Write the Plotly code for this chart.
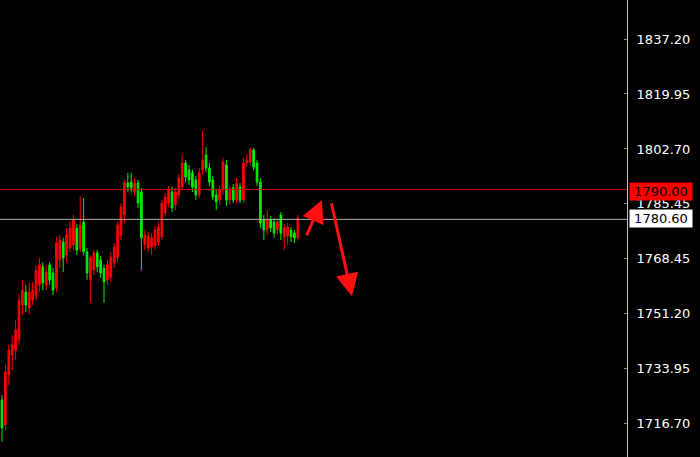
import plotly.graph_objects as go

# OHLC values (price units)
opens = [1723.9, 1716.1, 1731.8, 1738.0, 1739.6, 1742.8, 1753.7, 1757.8, 1752.8, 1755.3,
         1756.5, 1760.0, 1765.7, 1760.0, 1766.3, 1763.8, 1759.1, 1767.9, 1773.5, 1769.4,
         1771.6, 1772.6, 1777.9, 1771.6, 1779.8, 1770.4, 1761.6, 1764.7, 1770.1, 1767.9,
         1765.3, 1761.6, 1762.5, 1766.9, 1768.5, 1775.7, 1782.0, 1792.0, 1792.3, 1789.2,
         1792.0, 1789.2, 1772.6, 1771.6, 1771.9, 1772.3, 1773.5, 1775.1, 1782.6, 1785.7,
         1789.2, 1785.1, 1788.3, 1790.8, 1798.3, 1796.1, 1795.2, 1793.0, 1788.3, 1796.1,
         1800.8, 1796.7, 1793.0, 1788.3, 1786.7, 1789.8, 1797.7, 1786.7, 1790.5, 1786.7,
         1790.8, 1786.7, 1798.3, 1798.6, 1802.4, 1798.3, 1792.3, 1780.4, 1777.3, 1780.4,
         1779.8, 1777.3, 1782.0, 1775.1, 1775.4, 1777.3, 1776.3, 1774.8]
highs = [1725.5, 1734.9, 1741.2, 1744.3, 1749.0, 1756.9, 1761.6, 1760.0, 1761.0, 1761.0,
         1766.3, 1768.5, 1767.2, 1766.3, 1767.2, 1765.3, 1774.8, 1775.7, 1774.8, 1777.9,
         1779.8, 1782.0, 1779.2, 1787.9, 1787.3, 1771.6, 1769.4, 1771.0, 1771.0, 1769.1,
         1766.3, 1767.9, 1770.4, 1773.2, 1779.8, 1785.7, 1793.0, 1795.2, 1795.2, 1793.6,
         1793.0, 1790.5, 1777.3, 1776.6, 1776.3, 1778.5, 1779.8, 1786.7, 1788.9, 1791.1,
         1790.8, 1790.5, 1794.8, 1800.8, 1799.2, 1797.7, 1796.1, 1794.2, 1796.7, 1808.3,
         1803.3, 1798.3, 1794.2, 1789.8, 1791.1, 1799.9, 1799.2, 1791.1, 1791.7, 1793.6,
         1792.0, 1799.9, 1801.1, 1803.0, 1803.0, 1799.2, 1793.6, 1782.0, 1783.5, 1781.7,
         1781.0, 1781.0, 1782.9, 1779.2, 1779.5, 1778.2, 1777.3, 1782.0]
lows = [1710.8, 1714.5, 1728.6, 1733.3, 1736.5, 1741.2, 1750.6, 1751.5, 1750.6, 1753.7,
        1755.3, 1757.8, 1758.4, 1758.4, 1760.0, 1756.9, 1757.8, 1765.3, 1764.1, 1767.2,
        1770.4, 1771.0, 1769.4, 1770.4, 1769.4, 1761.6, 1754.4, 1763.2, 1764.1, 1762.2,
        1754.4, 1760.0, 1761.0, 1765.3, 1766.9, 1774.1, 1779.8, 1789.2, 1789.2, 1787.9,
        1784.2, 1764.7, 1771.0, 1770.4, 1769.4, 1771.0, 1772.3, 1774.1, 1781.4, 1784.5,
        1782.9, 1783.5, 1787.0, 1789.8, 1792.3, 1791.4, 1789.2, 1786.7, 1787.3, 1794.5,
        1795.5, 1791.1, 1786.7, 1783.5, 1785.1, 1788.3, 1784.8, 1785.1, 1785.7, 1785.7,
        1785.7, 1785.7, 1797.0, 1797.4, 1796.1, 1791.1, 1777.9, 1774.1, 1775.7, 1776.6,
        1774.8, 1776.0, 1774.1, 1771.0, 1772.6, 1773.5, 1773.2, 1774.1]
closes = [1715.2, 1732.7, 1739.6, 1741.2, 1745.9, 1755.3, 1758.4, 1753.7, 1757.8, 1758.4,
          1764.7, 1766.3, 1760.6, 1764.1, 1761.6, 1758.4, 1773.2, 1774.1, 1768.5, 1775.7,
          1777.9, 1780.4, 1771.0, 1778.8, 1770.4, 1763.8, 1768.5, 1770.1, 1765.7, 1763.8,
          1761.0, 1766.3, 1768.8, 1771.9, 1778.8, 1784.5, 1792.0, 1790.8, 1790.5, 1792.0,
          1785.7, 1774.8, 1775.7, 1775.4, 1774.8, 1777.3, 1778.2, 1785.7, 1787.6, 1789.8,
          1784.2, 1789.2, 1793.6, 1798.3, 1793.9, 1793.0, 1790.8, 1788.3, 1795.2, 1799.2,
          1796.7, 1792.3, 1787.6, 1786.1, 1789.8, 1798.6, 1786.7, 1789.8, 1786.7, 1792.0,
          1786.7, 1798.3, 1799.2, 1802.4, 1797.0, 1792.3, 1779.5, 1777.3, 1780.4, 1777.9,
          1776.3, 1779.8, 1776.3, 1777.9, 1778.2, 1775.1, 1774.8, 1781.0]
bars = list(range(len(opens)))

tick_vals = [1837.20, 1819.95, 1802.70, 1785.45, 1768.45, 1751.20, 1733.95, 1716.70]
tick_text = ["1837.20", "1819.95", "1802.70", "1785.45", "1768.45", "1751.20", "1733.95", "1716.70"]

resistance = 1790.00
current = 1780.60

# arrow endpoints (bar index, price)
arrow_up = dict(x0=89.4, y0=1775.1, x1=94.1, y1=1786.7)
arrow_down = dict(x0=96.8, y0=1786.1, x1=102.9, y1=1756.5)

RED = "#ff0000"
GREEN = "#00ee00"

fig = go.Figure()
fig.add_trace(go.Candlestick(
    x=bars, open=opens, high=highs, low=lows, close=closes,
    increasing=dict(line=dict(color=RED, width=1), fillcolor=RED),
    decreasing=dict(line=dict(color=GREEN, width=1), fillcolor=GREEN),
    whiskerwidth=0, hoverinfo="skip",
))

fig.add_shape(type="line", xref="paper", x0=0, x1=1, yref="y", y0=resistance, y1=resistance,
              line=dict(color="#d80000", width=1))
fig.add_shape(type="line", xref="paper", x0=0, x1=1, yref="y", y0=current, y1=current,
              line=dict(color="#b0b0b0", width=1))

for a in (arrow_up, arrow_down):
    fig.add_annotation(x=a["x1"], y=a["y1"], ax=a["x0"], ay=a["y0"],
                       xref="x", yref="y", axref="x", ayref="y",
                       showarrow=True, arrowhead=2, arrowsize=1.5, arrowwidth=3,
                       arrowcolor="#ff1010", text="")

fig.add_annotation(xref="paper", x=1, xanchor="left", xshift=2, yref="y", y=resistance,
                   yshift=-2, text=f"{resistance:.2f}", showarrow=False, bgcolor="#ff0000",
                   font=dict(color="#000000", size=13, family="DejaVu Sans"),
                   width=62, align="center", borderpad=0, height=17)
fig.add_annotation(xref="paper", x=1, xanchor="left", xshift=2, yref="y", y=current,
                   yshift=1, text=f"{current:.2f}", showarrow=False, bgcolor="#ffffff",
                   font=dict(color="#000000", size=13, family="DejaVu Sans"),
                   width=62, align="center", borderpad=0, height=17)

fig.update_layout(
    width=700, height=457,
    margin=dict(l=0, r=73, t=0, b=0),
    paper_bgcolor="#000000", plot_bgcolor="#000000",
    showlegend=False, hovermode=False,
    xaxis=dict(range=[-0.59, 183.8], visible=False, rangeslider=dict(visible=False),
               fixedrange=True),
    yaxis=dict(range=[1706.03, 1849.44], side="right", showgrid=False, zeroline=False,
               showline=True, linecolor="#c8c8c8", linewidth=1,
               tickvals=tick_vals, ticktext=tick_text,
               ticks="inside", ticklen=3, tickcolor="#888888",
               tickfont=dict(color="#ffffff", size=13, family="DejaVu Sans"),
               ticklabelstandoff=6, fixedrange=True),
)

fig.write_html("out.html", config={"displayModeBar": False},
               post_script="document.body.style.margin='0';document.body.style.background='#000';")
